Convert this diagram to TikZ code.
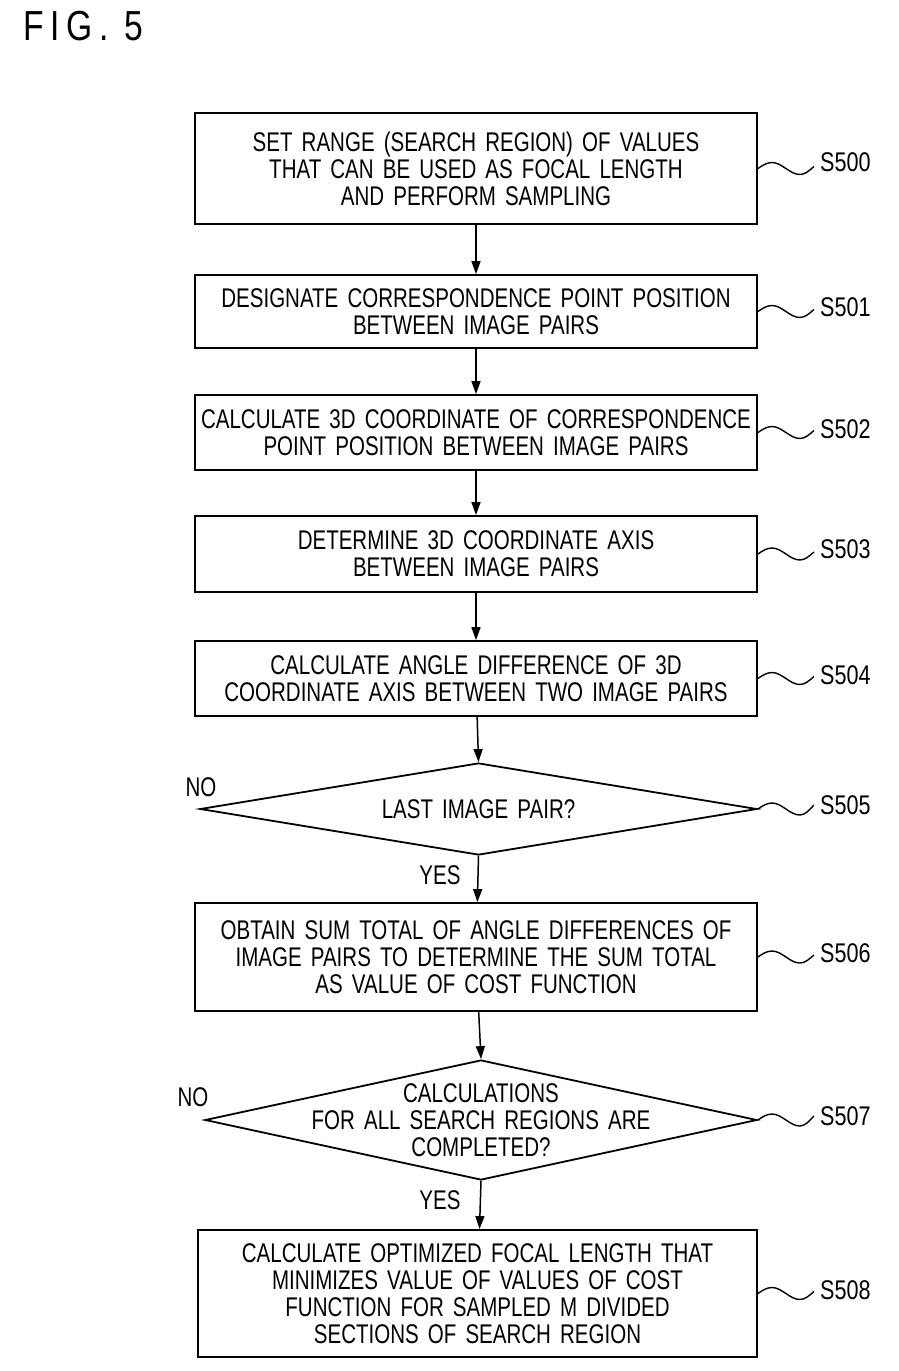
\documentclass[tikz,border=0pt]{standalone}
\usepackage{fontspec}
\setmainfont{Liberation Sans}[FakeStretch=0.76,WordSpace=1.6]
\newfontfamily\figfont{Liberation Sans}[FakeStretch=0.8,LetterSpace=16]
\newfontfamily\labfont{Liberation Sans}[FakeStretch=0.8]
\usetikzlibrary{shapes.geometric,arrows.meta}
\newcommand\boxfont{\fontsize{27}{27}\selectfont}
\begin{document}
\begin{tikzpicture}[x=1pt,y=-1pt,
  stepbox/.style={draw, line width=1.8pt, minimum width=562pt, inner sep=0pt, align=center, font=\boxfont},
  decision/.style={draw, diamond, line width=1.8pt, inner sep=0pt},
  dtext/.style={align=center, font=\boxfont, inner sep=0pt},
  flow/.style={line width=1.5pt, -{Triangle[length=13pt,width=9pt]}},
  wavy/.style={line width=1.4pt},
  steplabel/.style={anchor=west, font=\labfont\fontsize{27}{27}\selectfont, inner sep=0pt},
  yesno/.style={font=\boxfont, inner sep=0pt}]
\useasboundingbox (0,0) rectangle (899,1371);
\node[anchor=west, font=\figfont\fontsize{42}{42}\selectfont, inner sep=0pt] (fig) at (23,26) {FIG. 5};

\node[stepbox, minimum height=111pt] (b500) at (476,168.5) {SET RANGE (SEARCH REGION) OF VALUES\\THAT CAN BE USED AS FOCAL LENGTH\\AND PERFORM SAMPLING};
\node[stepbox, minimum height=73pt] (b501) at (476,311.5) {DESIGNATE CORRESPONDENCE POINT POSITION\\BETWEEN IMAGE PAIRS};
\node[stepbox, minimum height=75pt] (b502) at (476,432.5) {CALCULATE 3D COORDINATE OF CORRESPONDENCE\\POINT POSITION BETWEEN IMAGE PAIRS};
\node[stepbox, minimum height=76pt] (b503) at (476,554) {DETERMINE 3D COORDINATE AXIS\\BETWEEN IMAGE PAIRS};
\node[stepbox, minimum height=75pt] (b504) at (476,678.5) {CALCULATE ANGLE DIFFERENCE OF 3D\\COORDINATE AXIS BETWEEN TWO IMAGE PAIRS};
\node[decision, minimum width=557pt, minimum height=92pt] (b505) at (478.5,809) {};
\node[dtext] (t505) at (b505.center) {LAST IMAGE PAIR?};
\node[stepbox, minimum height=108pt] (b506) at (476,957) {OBTAIN SUM TOTAL OF ANGLE DIFFERENCES OF\\IMAGE PAIRS TO DETERMINE THE SUM TOTAL\\AS VALUE OF COST FUNCTION};
\node[decision, minimum width=552pt, minimum height=120pt] (b507) at (481,1120) {};
\node[dtext] (t507) at (b507.center) {CALCULATIONS\\FOR ALL SEARCH REGIONS ARE\\COMPLETED?};
\node[stepbox, minimum width=559pt, minimum height=127pt] (b508) at (477.5,1293.5) {CALCULATE OPTIMIZED FOCAL LENGTH THAT\\MINIMIZES VALUE OF VALUES OF COST\\FUNCTION FOR SAMPLED M DIVIDED\\SECTIONS OF SEARCH REGION};

\draw[flow] (b500) -- (b501);
\draw[flow] (b501) -- (b502);
\draw[flow] (b502) -- (b503);
\draw[flow] (b503) -- (b504);
\draw[flow] (b504) -- (b505.north);
\draw[flow] (b505.south) -- (b506);
\draw[flow] (b506) -- (b507.north);
\draw[flow] (b507.south) -- (b508);

\node[yesno] (no505) at (201,787) {NO};
\node[yesno] (yes505) at (440,875) {YES};
\node[yesno] (no507) at (193,1097) {NO};
\node[yesno] (yes507) at (440,1200) {YES};

\foreach \n/\y/\dy in {500/162/-2, 501/307/-2, 502/429/-2, 503/549/-2, 504/675/-2, 505/805/-4, 506/953/-2, 507/1116/-4, 508/1290/-2}{
  \node[steplabel] (l\n) at (820,\y) {S\n};
  \draw[wavy] (b\n.east) sin ++(14,-6) cos ++(14,6) sin ++(14,6) cos ++(14,\dy-6);
}
\end{tikzpicture}
\end{document}
